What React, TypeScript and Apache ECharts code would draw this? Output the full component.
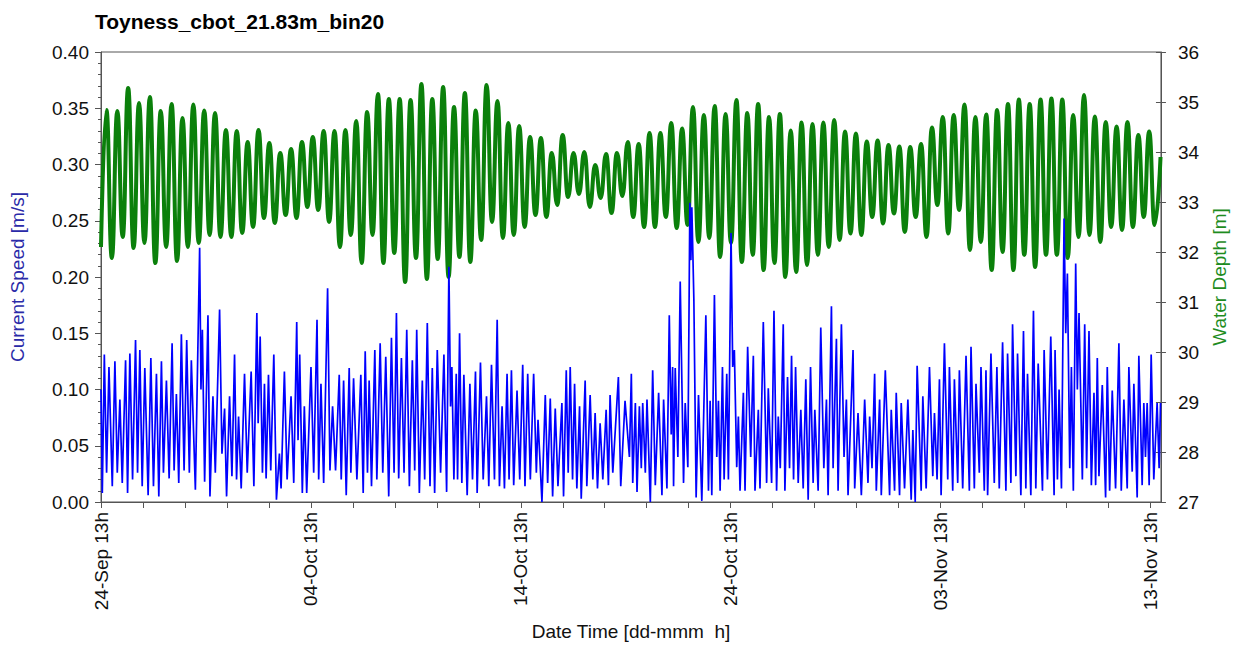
import React, { useEffect, useRef } from "react";
import * as echarts from "echarts";

const TITLE = "Toyness_cbot_21.83m_bin20";
const X_TICK_LABELS = ["24-Sep 13h", "04-Oct 13h", "14-Oct 13h", "24-Oct 13h", "03-Nov 13h", "13-Nov 13h"];
const X_MAX_H = 1212; // hours after 24-Sep 13h
const HALF_TIDE_H = 6.21; // spacing of successive high / low waters

// Water depth: high waters (m), in order
const depthHighs = [
  34.84, 34.82, 35.28, 34.98, 35.1, 34.82, 34.96, 34.68, 34.95, 34.83,
  34.78, 34.44, 34.42, 34.2, 34.44, 34.18, 33.98, 34.06, 34.2, 34.3,
  34.42, 34.42, 34.44, 34.62, 34.8, 35.16, 35.06, 35.06, 35.04, 35.36,
  35.06, 35.3, 34.9, 35.18, 34.83, 35.34, 35.02, 34.58, 34.52, 34.3,
  34.28, 33.98, 34.34, 33.98, 34.0, 33.74, 33.96, 33.98, 34.2, 34.16,
  34.38, 34.38, 34.58, 34.47, 34.9, 34.74, 34.92, 34.76, 35.04, 34.78,
  34.96, 34.7, 34.76, 34.43, 34.59, 34.56, 34.59, 34.64, 34.41, 34.37,
  34.21, 34.23, 34.14, 34.11, 34.1, 34.16, 34.49, 34.7, 34.74, 34.95,
  34.7, 34.75, 34.84, 34.96, 35.05, 34.96, 35.05, 35.07, 35.05, 34.74,
  35.14, 34.71, 34.6, 34.51, 34.6, 34.34, 34.41,
];
// Water depth: low waters (m), first one at the start of the record
const depthLows = [
  32.1, 31.88, 32.3, 32.08, 32.18, 31.78, 32.1, 31.82, 32.1, 32.18,
  32.34, 32.3, 32.3, 32.38, 32.5, 32.68, 32.58, 32.74, 32.68, 32.9,
  32.84, 32.6, 32.1, 32.34, 31.78, 32.34, 31.78, 31.98, 31.4, 31.88,
  31.46, 31.86, 31.5, 31.9, 31.8, 32.24, 32.6, 32.28, 32.34, 32.5,
  32.74, 32.7, 32.94, 33.1, 33.16, 32.9, 33.08, 32.78, 33.12, 32.7,
  32.5, 32.5, 32.7, 32.48, 32.54, 32.2, 32.28, 31.9, 32.18, 31.8,
  31.94, 31.64, 31.78, 31.5, 31.6, 31.74, 31.94, 32.1, 32.24, 32.37,
  32.34, 32.7, 32.57, 32.77, 32.4, 32.7, 32.3, 32.94, 32.37, 32.84,
  32.04, 32.2, 31.64, 32.0, 31.64, 31.94, 31.7, 31.94, 31.94, 31.88,
  32.3, 32.34, 32.2, 32.5, 32.44, 32.5, 32.7, 32.54,
];
const depthLast = [1211.5, 33.9];

// Current speed: [hours after 24-Sep 13h, m/s]
const currentSpeed = [
  [0, 0.1], [1.5, 0.008], [3.8, 0.131], [6.4, 0.026], [9.1, 0.12], [12.9, 0.014], [15.9, 0.125], [18.6, 0.026],
  [21.6, 0.091], [24.3, 0.017], [28.1, 0.126], [30.4, 0.008], [33.0, 0.132], [36.1, 0.02], [39.5, 0.144], [41.8, 0.026],
  [44.4, 0.135], [47.1, 0.014], [50.1, 0.119], [53.9, 0.006], [57.0, 0.128], [60.0, 0.014], [63.4, 0.114], [66.1, 0.005],
  [69.1, 0.125], [71.4, 0.026], [74.8, 0.108], [77.9, 0.021], [81.3, 0.141], [83.6, 0.028], [86.2, 0.096], [88.9, 0.017],
  [91.9, 0.149], [95.0, 0.028], [98.0, 0.144], [101.0, 0.026], [103.3, 0.126], [107.9, 0.011], [112.8, 0.226], [114.3, 0.1],
  [115.9, 0.153], [118.5, 0.018], [122.3, 0.166], [124.6, 0.005], [128.0, 0.094], [130.7, 0.026], [135.6, 0.171], [138.3, 0.043],
  [141.3, 0.083], [143.6, 0.005], [147.0, 0.094], [149.7, 0.023], [152.7, 0.131], [155.0, 0.02], [157.3, 0.076], [160.3, 0.012],
  [164.1, 0.114], [167.2, 0.026], [171.7, 0.116], [174.8, 0.014], [178.2, 0.168], [179.7, 0.07], [182.0, 0.147], [184.6, 0.026],
  [186.9, 0.105], [188.8, 0.021], [191.5, 0.113], [194.1, 0.028], [197.6, 0.131], [200.6, 0.002], [204.0, 0.043], [205.9, 0.012],
  [209.7, 0.116], [212.8, 0.02], [217.3, 0.094], [220.4, 0.017], [223.8, 0.16], [225.3, 0.055], [227.2, 0.131], [230.2, 0.008],
  [232.5, 0.085], [235.2, 0.008], [240.1, 0.12], [243.2, 0.026], [247.0, 0.162], [248.9, 0.02], [251.5, 0.105], [254.6, 0.017],
  [259.1, 0.19], [261.8, 0.028], [264.8, 0.085], [268.2, 0.028], [272.4, 0.113], [274.7, 0.02], [277.4, 0.108], [280.4, 0.006],
  [283.8, 0.119], [285.7, 0.026], [288.8, 0.11], [292.6, 0.02], [297.1, 0.113], [299.8, 0.008], [302.1, 0.134], [304.7, 0.026],
  [306.6, 0.108], [309.3, 0.014], [313.1, 0.135], [315.4, 0.02], [319.2, 0.141], [322.2, 0.026], [325.6, 0.129], [329.0, 0.005],
  [332.1, 0.146], [335.1, 0.026], [337.8, 0.168], [340.4, 0.021], [343.5, 0.128], [346.5, 0.026], [349.6, 0.153], [352.6, 0.014],
  [356.0, 0.126], [358.7, 0.028], [361.0, 0.153], [364.0, 0.008], [367.4, 0.108], [370.1, 0.02], [373.1, 0.159], [376.2, 0.014],
  [378.8, 0.119], [381.5, 0.008], [384.5, 0.135], [388.3, 0.026], [392.1, 0.131], [395.2, 0.009], [397.8, 0.209], [399.7, 0.085],
  [401.2, 0.12], [403.5, 0.02], [406.2, 0.114], [407.7, 0.02], [410.0, 0.15], [412.6, 0.017], [414.9, 0.113], [418.7, 0.006],
  [421.8, 0.105], [424.8, 0.02], [428.2, 0.116], [430.1, 0.008], [433.9, 0.124], [437.0, 0.02], [440.8, 0.094], [443.4, 0.014],
  [446.5, 0.122], [449.9, 0.02], [453.0, 0.162], [455.6, 0.014], [458.6, 0.085], [461.3, 0.012], [464.3, 0.114], [466.6, 0.02],
  [469.3, 0.117], [471.9, 0.015], [475.7, 0.099], [478.8, 0.02], [482.2, 0.122], [484.8, 0.014], [487.9, 0.114], [490.9, 0.02],
  [494.7, 0.114], [497.8, 0.026], [499.7, 0.073], [504.2, 0.0], [508.0, 0.095], [510.7, 0.017], [513.7, 0.092], [516.4, 0.005],
  [519.4, 0.083], [522.5, 0.014], [527.0, 0.088], [528.9, 0.005], [532.0, 0.117], [534.2, 0.026], [536.5, 0.12], [539.2, 0.02],
  [541.5, 0.105], [544.1, 0.012], [547.2, 0.085], [549.1, 0.003], [553.6, 0.108], [555.5, 0.014], [559.3, 0.095], [562.4, 0.02],
  [565.0, 0.079], [567.7, 0.012], [570.7, 0.07], [573.8, 0.02], [577.6, 0.082], [580.2, 0.015], [582.1, 0.095], [585.2, 0.026],
  [591.6, 0.111], [594.3, 0.014], [599.2, 0.09], [604.2, 0.04], [606.4, 0.114], [608.0, 0.017], [611.0, 0.088], [612.9, 0.009],
  [615.6, 0.085], [617.8, 0.03], [619.4, 0.088], [622.4, 0.026], [624.3, 0.091], [628.1, 0.0], [630.8, 0.117], [633.8, 0.015],
  [637.6, 0.097], [641.4, 0.006], [643.3, 0.091], [647.1, 0.012], [649.8, 0.166], [652.0, 0.06], [653.6, 0.12], [654.7, 0.014],
  [656.6, 0.119], [659.6, 0.04], [662.3, 0.196], [666.1, 0.017], [668.0, 0.088], [671.0, 0.031], [673.3, 0.266], [674.5, 0.215],
  [675.6, 0.262], [677.9, 0.18], [680.5, 0.004], [683.2, 0.095], [687.0, 0.001], [691.6, 0.166], [694.6, 0.01], [696.5, 0.09],
  [698.4, 0.006], [701.4, 0.184], [704.1, 0.04], [706.0, 0.09], [707.9, 0.01], [710.6, 0.12], [712.5, 0.02], [715.5, 0.114],
  [717.4, 0.02], [720.4, 0.239], [722.3, 0.12], [724.2, 0.135], [726.9, 0.031], [728.8, 0.076], [730.7, 0.01], [734.5, 0.097],
  [736.4, 0.01], [739.4, 0.138], [742.9, 0.04], [745.9, 0.13], [747.8, 0.01], [751.6, 0.082], [753.5, 0.012], [757.3, 0.16],
  [761.1, 0.017], [763.0, 0.101], [766.8, 0.017], [769.5, 0.17], [772.5, 0.01], [774.4, 0.076], [776.7, 0.03], [780.1, 0.158],
  [782.0, 0.01], [785.0, 0.111], [787.3, 0.03], [789.6, 0.13], [791.9, 0.02], [794.2, 0.12], [797.2, 0.017], [800.2, 0.082],
  [802.9, 0.012], [805.9, 0.109], [808.6, 0.002], [811.3, 0.12], [814.3, 0.017], [816.2, 0.082], [820.0, 0.01], [823.0, 0.155],
  [826.5, 0.03], [829.5, 0.091], [831.4, 0.006], [835.2, 0.174], [837.1, 0.03], [840.9, 0.145], [842.8, 0.01], [846.6, 0.158],
  [849.6, 0.04], [852.3, 0.091], [854.2, 0.006], [859.9, 0.135], [861.8, 0.012], [865.6, 0.079], [869.4, 0.006], [873.2, 0.091],
  [877.0, 0.017], [878.9, 0.076], [881.6, 0.03], [884.6, 0.114], [886.5, 0.01], [890.3, 0.091], [892.2, 0.006], [896.8, 0.117],
  [901.7, 0.006], [903.6, 0.082], [907.4, 0.01], [909.3, 0.097], [913.1, 0.006], [915.0, 0.088], [918.8, 0.012], [922.6, 0.091],
  [926.4, 0.002], [928.3, 0.064], [931.0, 0.0], [933.2, 0.121], [937.8, 0.01], [939.7, 0.094], [943.5, 0.012], [947.3, 0.12],
  [951.1, 0.023], [953.0, 0.079], [956.0, 0.02], [958.7, 0.109], [960.6, 0.006], [964.4, 0.141], [968.2, 0.02], [970.1, 0.12],
  [973.9, 0.01], [975.8, 0.109], [979.6, 0.017], [981.5, 0.117], [985.3, 0.012], [989.1, 0.13], [992.9, 0.01], [994.8, 0.138],
  [998.6, 0.012], [1000.5, 0.105], [1004.3, 0.026], [1006.2, 0.12], [1010.0, 0.01], [1011.9, 0.117], [1013.8, 0.006], [1017.6, 0.132],
  [1021.4, 0.017], [1024.4, 0.12], [1027.1, 0.012], [1030.9, 0.142], [1034.7, 0.01], [1036.6, 0.132], [1040.4, 0.017], [1042.3, 0.158],
  [1046.1, 0.023], [1048.0, 0.132], [1051.8, 0.006], [1054.8, 0.152], [1057.5, 0.012], [1059.4, 0.114], [1063.2, 0.006], [1066.2, 0.17],
  [1068.9, 0.012], [1071.6, 0.123], [1076.5, 0.01], [1078.4, 0.135], [1082.2, 0.02], [1086.0, 0.147], [1089.8, 0.006], [1090.9, 0.135],
  [1093.6, 0.02], [1095.5, 0.1], [1098.2, 0.012], [1101.2, 0.252], [1103.1, 0.15], [1105.0, 0.203], [1107.7, 0.03], [1109.6, 0.12],
  [1111.8, 0.01], [1114.5, 0.212], [1116.4, 0.1], [1118.3, 0.168], [1122.1, 0.02], [1124.8, 0.158], [1127.0, 0.03], [1129.7, 0.152],
  [1132.4, 0.015], [1135.4, 0.097], [1137.3, 0.015], [1139.2, 0.128], [1141.1, 0.023], [1144.9, 0.104], [1148.7, 0.004], [1150.6, 0.12],
  [1153.3, 0.01], [1156.3, 0.099], [1160.1, 0.012], [1163.9, 0.141], [1166.6, 0.01], [1169.6, 0.091], [1173.4, 0.012], [1175.3, 0.12],
  [1179.1, 0.027], [1181.0, 0.105], [1184.8, 0.004], [1186.7, 0.13], [1190.5, 0.015], [1192.4, 0.088], [1194.3, 0.04], [1196.2, 0.088],
  [1198.5, 0.015], [1200.8, 0.131], [1203.8, 0.02], [1207.6, 0.088], [1209.9, 0.03], [1211.5, 0.088],
];

const FONT = "'Liberation Sans', Arial, Helvetica, sans-serif";
const AXIS_COLOR = "#555555";

function buildDepthSeries() {
  const out: number[][] = [];
  for (let k = 0; k < depthLows.length; k++) {
    out.push([2 * k * HALF_TIDE_H, depthLows[k]]);
    if (k < depthHighs.length) out.push([(2 * k + 1) * HALF_TIDE_H, depthHighs[k]]);
  }
  out.push(depthLast);
  return out;
}

export default function App() {
  const ref = useRef<HTMLDivElement>(null);
  useEffect(() => {
    if (!ref.current) return;
    const chart = echarts.init(ref.current, undefined, { renderer: "svg" });
    const labelStyle = { fontFamily: FONT, fontSize: 19, color: "#111" };
    chart.setOption({
      animation: false,
      backgroundColor: "#ffffff",
      title: {
        text: TITLE,
        left: 90,
        top: 6,
        textStyle: { fontFamily: FONT, fontSize: 21, fontWeight: "bold", color: "#000" },
      },
      grid: {
        left: 100,
        right: 73,
        top: 52,
        bottom: 144,
        show: true,
        borderColor: AXIS_COLOR,
        borderWidth: 1,
        backgroundColor: "transparent",
      },
      xAxis: {
        type: "value",
        min: 0,
        max: X_MAX_H,
        interval: 48,
        name: "Date Time [dd-mmm  h]",
        nameLocation: "middle",
        nameGap: 120,
        nameTextStyle: { fontFamily: FONT, fontSize: 19, color: "#111" },
        axisLine: { show: true, lineStyle: { color: AXIS_COLOR, width: 1 } },
        axisTick: { show: true, length: 6, lineStyle: { color: AXIS_COLOR } },
        splitLine: { show: false },
        axisLabel: {
          ...labelStyle,
          rotate: 90,
          margin: 10,
          interval: 0,
          showMaxLabel: false,
          formatter: (v: number) => {
            const r = Math.round(v);
            return r % 240 === 0 && X_TICK_LABELS[r / 240] ? X_TICK_LABELS[r / 240] : "";
          },
        },
      },
      yAxis: [
        {
          type: "value",
          position: "left",
          min: 0,
          max: 0.4,
          interval: 0.05,
          name: "Current Speed [m/s]",
          nameLocation: "middle",
          nameGap: 74,
          nameTextStyle: { fontFamily: FONT, fontSize: 19, color: "#2a2aa8" },
          axisLine: { show: true, lineStyle: { color: AXIS_COLOR } },
          axisTick: { show: true, length: 6, lineStyle: { color: AXIS_COLOR } },
          minorTick: { show: true, splitNumber: 5, length: 3, lineStyle: { color: AXIS_COLOR } },
          splitLine: { show: false },
          axisLabel: { ...labelStyle, margin: 12, formatter: (v: number) => v.toFixed(2) },
        },
        {
          type: "value",
          position: "right",
          min: 27,
          max: 36,
          interval: 1,
          name: "Water Depth [m]",
          nameLocation: "middle",
          nameGap: 44,
          nameTextStyle: { fontFamily: FONT, fontSize: 19, color: "#1e8c1e" },
          axisLine: { show: true, lineStyle: { color: AXIS_COLOR } },
          axisTick: { show: true, length: 5, lineStyle: { color: AXIS_COLOR } },
          splitLine: { show: false },
          axisLabel: { ...labelStyle, margin: 17 },
        },
        {
          type: "value",
          position: "right",
          min: 27,
          max: 36,
          interval: 1,
          axisLine: { show: false },
          axisTick: { show: true, inside: true, length: 5, lineStyle: { color: AXIS_COLOR } },
          splitLine: { show: false },
          axisLabel: { show: false },
        },
      ],
      series: [
        {
          name: "Water Depth",
          type: "line",
          yAxisIndex: 1,
          data: buildDepthSeries(),
          showSymbol: false,
          smooth: 0.5,
          smoothMonotone: "x",
          lineStyle: { color: "#0b800b", width: 4 },
          z: 2,
        },
        {
          name: "Current Speed",
          type: "line",
          yAxisIndex: 0,
          data: currentSpeed,
          showSymbol: false,
          lineStyle: { color: "#0000ff", width: 1.7 },
          z: 3,
        },
      ],
    });
    return () => chart.dispose();
  }, []);
  return (
    <div
      ref={ref}
      style={{ position: "fixed", left: 0, top: 0, width: 1237, height: 646, background: "#fff" }}
    />
  );
}
